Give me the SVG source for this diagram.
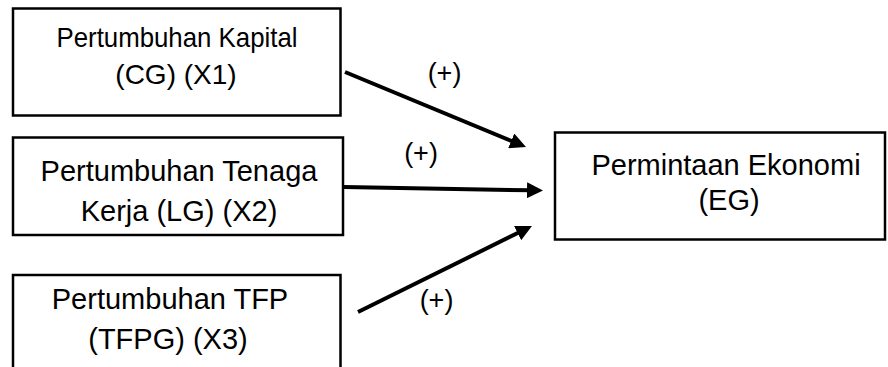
<svg xmlns="http://www.w3.org/2000/svg" width="888" height="367" viewBox="0 0 888 367">
<defs>
<style>
.box{fill:#fff;stroke:#000;stroke-width:2.5}
.t{font-family:"Liberation Sans",Arial,sans-serif;font-size:29px;fill:#000;text-anchor:middle}
.lbl{font-family:"Liberation Sans",Arial,sans-serif;font-size:27px;fill:#000;text-anchor:middle}
.conn{fill:none;stroke:#000;stroke-width:4;marker-end:url(#ah)}
</style>
<marker id="ah" markerUnits="userSpaceOnUse" markerWidth="16" markerHeight="16" refX="4" refY="8" orient="auto">
<path d="M0,0 L16,8 L0,16 z" fill="#000"/>
</marker>
</defs>
<rect width="888" height="367" fill="#fff"/>
<g id="node-cg">
<rect class="box" x="13" y="8.5" width="327.5" height="107"/>
<text class="t" x="177" y="47" textLength="241" lengthAdjust="spacingAndGlyphs" style="font-size:28px">Pertumbuhan Kapital</text>
<text class="t" x="176" y="84" style="font-size:28px">(CG) (X1)</text>
</g>
<g id="node-lg">
<rect class="box" x="13" y="137.5" width="330" height="97.5"/>
<text class="t" x="179" y="180.5">Pertumbuhan Tenaga</text>
<text class="t" x="179" y="221">Kerja (LG) (X2)</text>
</g>
<g id="node-tfpg">
<rect class="box" x="13" y="275" width="327.5" height="100"/>
<text class="t" x="170" y="309">Pertumbuhan TFP</text>
<text class="t" x="168" y="348.5">(TFPG) (X3)</text>
</g>
<g id="node-eg">
<rect class="box" x="555" y="132.5" width="330" height="107"/>
<text class="t" x="726" y="175">Permintaan Ekonomi</text>
<text class="t" x="729" y="210">(EG)</text>
</g>
<g id="connectors">
<line class="conn" x1="345" y1="72" x2="514.9" y2="142.4"/>
<line class="conn" x1="344" y1="187" x2="531" y2="190.3"/>
<line class="conn" x1="358" y1="312" x2="521.2" y2="231.3"/>
<text class="lbl" x="444.5" y="82">(+)</text>
<text class="lbl" x="421" y="161.5">(+)</text>
<text class="lbl" x="436.5" y="309">(+)</text>
</g>
</svg>
